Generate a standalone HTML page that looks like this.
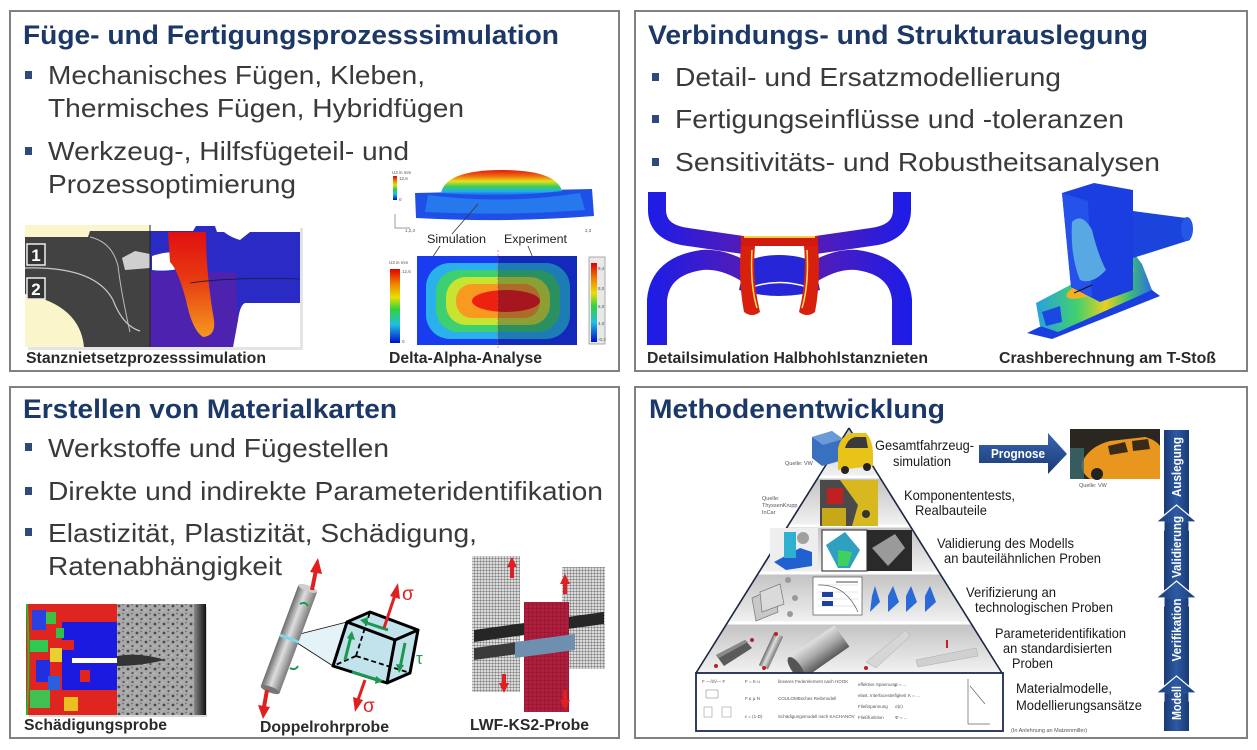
<!DOCTYPE html>
<html><head><meta charset="utf-8">
<style>
html,body{margin:0;padding:0;background:#fff;}
svg{display:block;}
text{font-family:"Liberation Sans",Arial,sans-serif;}
.t{font-weight:bold;font-size:27px;fill:#1c3867;}
.b{font-size:26px;fill:#3a3a3a;}
.c{font-weight:bold;font-size:15.5px;fill:#2a2a2a;}
.p{font-size:14px;fill:#1a1a1a;}
.q{font-size:5.5px;fill:#555;}
.m{font-size:4.5px;fill:#555;}
.bl{font-size:12.5px;font-weight:bold;fill:#fff;}
</style></head><body>
<svg width="1257" height="750" viewBox="0 0 1257 750" xmlns="http://www.w3.org/2000/svg">
<defs>
<linearGradient id="rainV" x1="0" y1="0" x2="0" y2="1">
<stop offset="0" stop-color="#e00000"/><stop offset=".2" stop-color="#f08000"/><stop offset=".38" stop-color="#e8e000"/><stop offset=".55" stop-color="#30d040"/><stop offset=".75" stop-color="#20c0e0"/><stop offset="1" stop-color="#0010d0"/></linearGradient>
<linearGradient id="dome" x1="0" y1="0" x2="0" y2="1">
<stop offset="0" stop-color="#e01808"/><stop offset=".25" stop-color="#f07010"/><stop offset=".45" stop-color="#e8e020"/><stop offset=".65" stop-color="#40d050"/><stop offset=".85" stop-color="#20b0e8"/><stop offset="1" stop-color="#2060f0"/></linearGradient>
<linearGradient id="rivG" x1="0" y1="0" x2="0" y2="1">
<stop offset="0" stop-color="#e01010"/><stop offset=".45" stop-color="#e83a10"/><stop offset="1" stop-color="#f49a20"/></linearGradient>
<linearGradient id="sheetG" gradientUnits="userSpaceOnUse" x1="648" y1="0" x2="911" y2="0">
<stop offset="0" stop-color="#1c1ce8"/><stop offset=".3" stop-color="#4a1cc0"/><stop offset=".5" stop-color="#6a18a0"/><stop offset=".7" stop-color="#4a1cc0"/><stop offset="1" stop-color="#1c1ce8"/></linearGradient>
<linearGradient id="tierG" x1="0" y1="0" x2="0" y2="1">
<stop offset="0" stop-color="#c2c2c2"/><stop offset="1" stop-color="#f2f2f2"/></linearGradient>
<linearGradient id="cylG" x1="0" y1="0" x2="1" y2="0">
<stop offset="0" stop-color="#6a6a6a"/><stop offset=".45" stop-color="#dedede"/><stop offset="1" stop-color="#7a7a7a"/></linearGradient>
<linearGradient id="cylH" x1="0" y1="0" x2="0" y2="1">
<stop offset="0" stop-color="#e0e0e0"/><stop offset=".5" stop-color="#a8a8a8"/><stop offset="1" stop-color="#5a5a5a"/></linearGradient>
<linearGradient id="barG" x1="0" y1="0" x2="1" y2="0">
<stop offset="0" stop-color="#1a3a76"/><stop offset=".5" stop-color="#2d5aa2"/><stop offset="1" stop-color="#1a3a76"/></linearGradient>
<linearGradient id="progG" x1="0" y1="0" x2="0" y2="1">
<stop offset="0" stop-color="#3866b0"/><stop offset="1" stop-color="#1a3a74"/></linearGradient>
<linearGradient id="chanG" x1="0" y1="0" x2="1" y2="0">
<stop offset="0" stop-color="#28a0e0"/><stop offset=".35" stop-color="#40d070"/><stop offset=".6" stop-color="#e8d020"/><stop offset=".8" stop-color="#40c070"/><stop offset="1" stop-color="#2a70e0"/></linearGradient>
<linearGradient id="darkR" x1="0" y1="0" x2="1" y2="0">
<stop offset="0" stop-color="#888"/><stop offset="1" stop-color="#111"/></linearGradient>
<pattern id="speck" width="9" height="9" patternUnits="userSpaceOnUse">
<rect width="9" height="9" fill="#a9a9a9"/><circle cx="2" cy="3" r="1.4" fill="#4a4a4a"/><circle cx="6.5" cy="7" r="1.1" fill="#555"/><circle cx="6" cy="1.5" r=".8" fill="#666"/><circle cx="1" cy="7.5" r=".6" fill="#d0d0d0"/></pattern>
<pattern id="grid" width="3" height="3" patternUnits="userSpaceOnUse">
<rect width="3" height="3" fill="#dcdcdc"/><path d="M0,0H3M0,0V3" stroke="#4a4a4a" stroke-width=".7"/></pattern>
<pattern id="gridR" width="4" height="4" patternUnits="userSpaceOnUse">
<rect width="4" height="4" fill="#b01e3e"/><path d="M0,0H4M0,0V4" stroke="#6a0c20" stroke-width=".6"/></pattern>
</defs>

<!-- panels -->
<rect x="10" y="11" width="609" height="360" fill="#fff" stroke="#808080" stroke-width="2"/>
<rect x="635" y="11" width="612" height="360" fill="#fff" stroke="#808080" stroke-width="2"/>
<rect x="10" y="387" width="609" height="351" fill="#fff" stroke="#808080" stroke-width="2"/>
<rect x="635" y="387" width="612" height="351" fill="#fff" stroke="#808080" stroke-width="2"/>

<!-- ===== TOP LEFT ===== -->
<text class="t" x="23" y="44" textLength="536" lengthAdjust="spacingAndGlyphs">Füge- und Fertigungsprozesssimulation</text>
<rect x="25" y="71" width="7" height="8" fill="#2d4b7a"/>
<text class="b" x="48" y="84" textLength="377" lengthAdjust="spacingAndGlyphs">Mechanisches Fügen, Kleben,</text>
<text class="b" x="48" y="117" textLength="416" lengthAdjust="spacingAndGlyphs">Thermisches Fügen, Hybridfügen</text>
<rect x="25" y="147" width="7" height="8" fill="#2d4b7a"/>
<text class="b" x="48" y="160" textLength="361" lengthAdjust="spacingAndGlyphs">Werkzeug-, Hilfsfügeteil- und</text>
<text class="b" x="48" y="193" textLength="248" lengthAdjust="spacingAndGlyphs">Prozessoptimierung</text>

<!-- Stanzniet image -->
<rect x="28" y="228" width="275" height="122" fill="#e4e4e4"/>
<rect x="25" y="225" width="125" height="122" fill="#fbf5cc"/>
<rect x="150" y="225" width="150" height="122" fill="#fff"/>
<path d="M25,237 L88,237 L90,231 L150,231 L150,347 L84,347 Q80,305 25,294 Z" fill="#424242"/>
<path d="M25,268 Q95,266 113,300 Q123,326 140,331" stroke="#c8c8c8" stroke-width="1.2" fill="none"/>
<path d="M90,237 Q112,242 118,266 Q121,292 130,332" stroke="#bdbdbd" stroke-width="1" fill="none"/>
<path d="M122,258 L135,251 L150,254 L150,268 L125,270 Z" fill="#cfcfcf"/>
<path d="M150,231 L193,231 L196,226 L215,226 L217,232 L300,232 L300,303 L245,303 Q240,305 238,320 L233,347 L150,347 Z" fill="#2a2ac4"/>
<path d="M150,272 L236,272 L238,320 L233,347 L150,347 Z" fill="#6a1c9c" opacity=".55"/>
<path d="M152,256 Q170,250 181,254 L184,268 Q165,272 152,270 Z" fill="#fff"/>
<path d="M218,226 Q226,236 240,240 L250,232 Z" fill="#fff"/>
<path d="M168,232 L206,232 Q206,275 214,320 Q216,336 203,337 Q192,330 186,300 Q178,270 170,262 Z" fill="url(#rivG)"/>
<path d="M190,283 Q230,277 300,279" stroke="#1a1a40" stroke-width=".8" fill="none"/>
<line x1="150" y1="225" x2="150" y2="347" stroke="#222" stroke-width="1"/>
<rect x="27" y="244" width="18" height="21" fill="#333" stroke="#eee" stroke-width="1.5"/>
<text x="36" y="261" text-anchor="middle" font-size="17" font-weight="bold" fill="#fff">1</text>
<rect x="27" y="278" width="18" height="21" fill="#333" stroke="#eee" stroke-width="1.5"/>
<text x="36" y="295" text-anchor="middle" font-size="17" font-weight="bold" fill="#fff">2</text>
<text class="c" x="26" y="363" textLength="240" lengthAdjust="spacingAndGlyphs">Stanznietsetzprozesssimulation</text>

<!-- Delta alpha: 3D -->
<path d="M415,193 L592,189 L594,216 Q505,223 416,218 Z" fill="#1e50e8"/>
<path d="M428,195 Q505,205 580,193 L585,210 Q505,216 425,212 Z" fill="#2a8af0" opacity=".7"/>
<path d="M441,193 Q446,170 502,170 Q556,170 562,191 Q502,198 441,193 Z" fill="url(#dome)"/>
<rect x="393" y="176" width="4" height="24" fill="url(#rainV)"/>
<text class="m" x="392" y="174">U3 in mm</text>
<text class="m" x="399" y="180">12,6</text>
<text class="m" x="399" y="201">0</text>
<path d="M395,214 V228 H410" stroke="#777" stroke-width=".7" fill="none"/>
<text class="m" x="405" y="232">1,2,3</text>
<text class="m" x="585" y="232">2,3</text>
<line x1="452" y1="234" x2="478" y2="204" stroke="#333" stroke-width=".8"/>
<text x="427" y="243" font-size="11.5" fill="#222" textLength="59" lengthAdjust="spacingAndGlyphs">Simulation</text>
<text x="504" y="243" font-size="11.5" fill="#222" textLength="63" lengthAdjust="spacingAndGlyphs">Experiment</text>
<line x1="440" y1="246" x2="432" y2="258" stroke="#333" stroke-width=".8"/>
<line x1="528" y1="246" x2="533" y2="258" stroke="#333" stroke-width=".8"/>
<!-- heatmap -->
<rect x="417" y="256" width="160" height="89" fill="#1a3cf0"/>
<rect x="426" y="263" width="144" height="76" rx="24" fill="#2ab0ea"/>
<rect x="436" y="270" width="124" height="62" rx="22" fill="#3cd070"/>
<rect x="446" y="277" width="104" height="48" rx="20" fill="#c8e430"/>
<rect x="456" y="284" width="84" height="34" rx="16" fill="#f89a20"/>
<ellipse cx="506" cy="301" rx="34" ry="11" fill="#ee2010"/>
<rect x="498" y="256" width="79" height="89" fill="#000040" opacity=".3"/>
<line x1="498" y1="250" x2="498" y2="348" stroke="#c44" stroke-width=".6" stroke-dasharray="2,2"/>
<text class="m" x="389" y="264">U3 in mm</text>
<rect x="390" y="269" width="10" height="74" fill="url(#rainV)"/>
<text class="m" x="402" y="273">12,6</text>
<text class="m" x="402" y="343">0</text>
<rect x="589" y="257" width="16" height="87" fill="#e8e8e8" stroke="#999" stroke-width=".8"/>
<rect x="591" y="263" width="6" height="79" fill="url(#rainV)"/>
<text class="m" x="598" y="270">9,4</text><text class="m" x="598" y="290">8,0</text><text class="m" x="598" y="308">6,0</text><text class="m" x="598" y="325">4,0</text><text class="m" x="598" y="341">-0,3</text>
<text class="c" x="389" y="363" textLength="153" lengthAdjust="spacingAndGlyphs">Delta-Alpha-Analyse</text>

<!-- ===== TOP RIGHT ===== -->
<text class="t" x="648" y="44" textLength="500" lengthAdjust="spacingAndGlyphs">Verbindungs- und Strukturauslegung</text>
<rect x="652" y="73" width="7" height="8" fill="#2d4b7a"/>
<text class="b" x="675" y="86" textLength="386" lengthAdjust="spacingAndGlyphs">Detail- und Ersatzmodellierung</text>
<rect x="652" y="115" width="7" height="8" fill="#2d4b7a"/>
<text class="b" x="675" y="128" textLength="449" lengthAdjust="spacingAndGlyphs">Fertigungseinflüsse und -toleranzen</text>
<rect x="652" y="158" width="7" height="8" fill="#2d4b7a"/>
<text class="b" x="675" y="171" textLength="485" lengthAdjust="spacingAndGlyphs">Sensitivitäts- und Robustheitsanalysen</text>

<!-- rivet cross-section -->
<g fill="none" stroke="url(#sheetG)">
<path d="M657,192 L657,210 Q657,233 688,237 L750,246" stroke-width="18"/>
<path d="M902,192 L902,210 Q902,233 871,237 L809,246" stroke-width="18"/>
<path d="M752,276 Q725,258 702,260 Q660,266 657,300 L657,345" stroke-width="20"/>
<path d="M807,276 Q834,258 857,260 Q899,266 902,300 L902,345" stroke-width="20"/>
</g>
<path d="M745,262 Q760,255 779,255 Q799,255 814,262 L820,290 Q800,296 779,296 Q759,296 739,290 Z" fill="#2626d8"/>
<path d="M752,287 Q779,278 807,287" stroke="#fff" stroke-width="1.5" fill="none"/>
<rect x="741" y="236" width="77" height="10" fill="#d01a10"/>
<rect x="744" y="236" width="71" height="2" fill="#f4d040"/>
<path d="M741,246 L755,246 Q752,280 760,312 Q752,318 744,312 Q738,280 741,246 Z" fill="#d8200e"/>
<path d="M818,246 L804,246 Q807,280 799,312 Q807,318 815,312 Q821,280 818,246 Z" fill="#d8200e"/>
<path d="M752,250 Q750,285 757,308" stroke="#f8e060" stroke-width="1.5" fill="none"/>
<path d="M807,250 Q809,285 802,308" stroke="#f8e060" stroke-width="1.5" fill="none"/>

<!-- crash T-joint -->
<polygon points="1027,333 1052,339 1160,296 1152,290 1120,288" fill="#1a3ee0"/>
<polygon points="1036,303 1133,252 1142,264 1152,290 1058,332 1040,326" fill="url(#chanG)"/>
<polygon points="1042,312 1060,306 1062,322 1046,326" fill="#1a48e0"/>
<ellipse cx="1100" cy="283" rx="36" ry="9" transform="rotate(-22 1100 283)" fill="#f0b020"/>
<ellipse cx="1102" cy="282" rx="22" ry="5" transform="rotate(-22 1102 282)" fill="#e03010"/>
<polygon points="1062,193 1094,183 1133,190 1133,290 1100,302 1071,287" fill="#1a3ee0"/>
<polygon points="1062,193 1088,201 1092,297 1071,287" fill="#2452ea"/>
<path d="M1072,222 Q1082,212 1092,230 Q1098,255 1106,270 Q1092,285 1080,280 Q1070,255 1072,222 Z" fill="#58a8e4"/>
<polygon points="1133,211 1186,218 1190,240 1133,258" fill="#1a44dc"/>
<ellipse cx="1187" cy="229" rx="6" ry="12" fill="#2656e8"/>
<line x1="1074" y1="293" x2="1092" y2="285" stroke="#111" stroke-width="1"/>
<text class="c" x="647" y="363" textLength="281" lengthAdjust="spacingAndGlyphs">Detailsimulation Halbhohlstanznieten</text>
<text class="c" x="999" y="363" textLength="217" lengthAdjust="spacingAndGlyphs">Crashberechnung am T-Stoß</text>

<!-- ===== BOTTOM LEFT ===== -->
<text class="t" x="23" y="418" textLength="374" lengthAdjust="spacingAndGlyphs">Erstellen von Materialkarten</text>
<rect x="25" y="443" width="7" height="8" fill="#2d4b7a"/>
<text class="b" x="48" y="457" textLength="341" lengthAdjust="spacingAndGlyphs">Werkstoffe und Fügestellen</text>
<rect x="25" y="487" width="7" height="8" fill="#2d4b7a"/>
<text class="b" x="48" y="500" textLength="555" lengthAdjust="spacingAndGlyphs">Direkte und indirekte Parameteridentifikation</text>
<rect x="25" y="528" width="7" height="8" fill="#2d4b7a"/>
<text class="b" x="48" y="542" textLength="429" lengthAdjust="spacingAndGlyphs">Elastizität, Plastizität, Schädigung,</text>
<text class="b" x="48" y="575" textLength="234" lengthAdjust="spacingAndGlyphs">Ratenabhängigkeit</text>

<!-- Schädigungsprobe -->
<rect x="29" y="607" width="178" height="110" fill="#d8d8d8"/>
<rect x="26" y="604" width="91" height="111" fill="#e02420"/>
<rect x="117" y="604" width="89" height="111" fill="url(#speck)"/>
<rect x="194" y="604" width="12" height="111" fill="url(#darkR)"/>
<path d="M117,656 Q140,652 165,660 Q140,666 117,666 Z" fill="#333"/>
<rect x="62" y="622" width="55" height="68" fill="#1a1ae0"/>
<rect x="32" y="610" width="14" height="20" fill="#2a40e0"/>
<rect x="46" y="612" width="10" height="12" fill="#40c040"/>
<rect x="30" y="640" width="18" height="12" fill="#30c850"/>
<rect x="36" y="660" width="14" height="22" fill="#2030e0"/>
<rect x="50" y="648" width="12" height="14" fill="#e8d030"/>
<rect x="30" y="690" width="20" height="18" fill="#40c050"/>
<rect x="48" y="676" width="12" height="14" fill="#2a60e0"/>
<rect x="62" y="640" width="12" height="10" fill="#e02420"/>
<rect x="80" y="670" width="10" height="12" fill="#e02420"/>
<rect x="64" y="697" width="14" height="14" fill="#e8c020"/>
<rect x="56" y="628" width="8" height="10" fill="#30c050"/>
<rect x="90" y="612" width="27" height="10" fill="#e02420"/>
<rect x="72" y="658" width="45" height="5" fill="#fff"/>
<path d="M27,604 Q30,660 27,715" stroke="#20c020" stroke-width="2" fill="none"/>
<text class="c" x="24" y="730" textLength="143" lengthAdjust="spacingAndGlyphs">Schädigungsprobe</text>

<!-- Doppelrohrprobe -->
<path d="M288,637 L347,622 L333,666 Z" fill="#d8eef4" opacity=".7"/>
<line x1="288" y1="637" x2="347" y2="622" stroke="#111" stroke-width=".8"/>
<line x1="288" y1="637" x2="333" y2="666" stroke="#111" stroke-width=".8"/>
<g transform="translate(289,639) rotate(20.4)">
<rect x="-10" y="-54" width="20" height="108" fill="url(#cylG)"/>
<ellipse cx="0" cy="-54" rx="10" ry="3" fill="#cfcfcf"/>
<ellipse cx="0" cy="54" rx="10" ry="3" fill="#777"/>
<rect x="-10" y="-2" width="20" height="3" fill="#7ad8ea"/>
</g>
<path d="M312,590 L316,570" stroke="#e02020" stroke-width="4"/>
<polygon points="310,572 318,558 322,574" fill="#e02020"/>
<path d="M267,690 L264,707" stroke="#e02020" stroke-width="4"/>
<polygon points="258,705 263,719 270,707" fill="#e02020"/>
<path d="M300,604 q5,-3 8,2" stroke="#1a9a50" stroke-width="2" fill="none"/>
<path d="M290,668 q5,3 8,-2" stroke="#1a9a50" stroke-width="2" fill="none"/>
<!-- cube -->
<polygon points="347,622 370,612 418,630 410,673 387,683 333,666" fill="#c2e2ec"/>
<g stroke="#000" stroke-width="1.8" stroke-dasharray="5,3" fill="none">
<path d="M356,656 L370,612 M356,656 L410,673 M356,656 L333,666"/>
</g>
<g stroke="#000" stroke-width="3" fill="none" stroke-linejoin="round">
<polygon points="347,622 395,640 387,683 333,666"/>
<path d="M347,622 L370,612 L418,630 L395,640 M418,630 L410,673 L387,683"/>
</g>
<g stroke="#1a9a50" stroke-width="3" fill="#1a9a50">
<line x1="388" y1="630" x2="364" y2="622"/><polygon points="360,620 368,617 367,626" stroke="none"/>
<line x1="405" y1="643" x2="400" y2="668"/><polygon points="399,673 396,664 404,665" stroke="none"/>
<line x1="345" y1="660" x2="351" y2="636"/><polygon points="352,631 355,640 347,638" stroke="none"/>
<line x1="352" y1="672" x2="378" y2="680"/><polygon points="383,681 375,684 376,676" stroke="none"/>
</g>
<path d="M384,628 L395,595" stroke="#e02020" stroke-width="3"/>
<polygon points="390,596 398,583 400,599" fill="#e02020"/>
<path d="M365,680 L358,700" stroke="#e02020" stroke-width="3"/>
<polygon points="353,697 355,712 363,700" fill="#e02020"/>
<text x="402" y="600" font-size="19" fill="#e02020">σ</text>
<text x="363" y="712" font-size="19" fill="#e02020">σ</text>
<text x="416" y="664" font-size="17" fill="#1a9a50">τ</text>
<text class="c" x="260" y="732" textLength="129" lengthAdjust="spacingAndGlyphs">Doppelrohrprobe</text>

<!-- LWF-KS2 -->
<rect x="472" y="556" width="48" height="136" fill="url(#grid)"/>
<rect x="562" y="567" width="43" height="102" fill="url(#grid)"/>
<polygon points="474,630 604,612 604,624 474,642" fill="#262626"/>
<polygon points="474,648 562,636 562,648 474,660" fill="#3a3a3a"/>
<rect x="524" y="602" width="45" height="110" fill="url(#gridR)"/>
<polygon points="515,642 575,634 575,650 515,658" fill="#6f8fb0"/>
<g fill="#e02020" stroke="#e02020">
<line x1="512" y1="578" x2="512" y2="565" stroke-width="4"/><polygon points="507,567 512,557 517,567" stroke="none"/>
<line x1="565" y1="594" x2="565" y2="582" stroke-width="4"/><polygon points="560,584 565,574 570,584" stroke="none"/>
<line x1="504" y1="674" x2="504" y2="685" stroke-width="4"/><polygon points="499,683 504,693 509,683" stroke="none"/>
<line x1="565" y1="690" x2="565" y2="702" stroke-width="4"/><polygon points="560,700 565,710 570,700" stroke="none"/>
</g>
<text class="c" x="470" y="730" textLength="119" lengthAdjust="spacingAndGlyphs">LWF-KS2-Probe</text>

<!-- ===== BOTTOM RIGHT ===== -->
<text class="t" x="649" y="418" textLength="296" lengthAdjust="spacingAndGlyphs">Methodenentwicklung</text>

<!-- pyramid tiers -->
<polygon points="849,428 879.6,477 818.4,477" fill="url(#tierG)"/>
<polygon points="818.4,477 879.6,477 910.2,526 787.8,526" fill="url(#tierG)"/>
<polygon points="787.8,526 910.2,526 939.6,573 758.4,573" fill="url(#tierG)"/>
<polygon points="758.4,573 939.6,573 970.8,623 727.2,623" fill="url(#tierG)"/>
<polygon points="727.2,623 970.8,623 1002,673 696,673" fill="url(#tierG)"/>
<g stroke="#fff" stroke-width="3">
<line x1="815" y1="477" x2="883" y2="477"/><line x1="785" y1="526" x2="913" y2="526"/><line x1="755" y1="573" x2="943" y2="573"/><line x1="724" y1="623" x2="974" y2="623"/>
</g>
<line x1="849" y1="428" x2="696" y2="673" stroke="#1a2540" stroke-width="1.6"/>
<line x1="849" y1="428" x2="1002" y2="673" stroke="#1a2540" stroke-width="1.6"/>

<!-- car tier -->
<polygon points="812,437 832,431 843,439 843,460 822,466 812,458" fill="#3a70c0"/>
<polygon points="812,437 832,431 843,439 823,445" fill="#6a9ad8"/>
<path d="M838,449 Q840,436 852,433 L866,433 Q873,440 873,455 L873,466 L838,470 Z" fill="#e8c418"/>
<path d="M845,448 Q848,438 856,437 L866,437 L868,448 Z" fill="#3a3a3a"/>
<circle cx="845" cy="470" r="4" fill="#222"/><circle cx="867" cy="467" r="4" fill="#222"/>
<!-- component tier -->
<rect x="820" y="480" width="58" height="46" fill="#4a4a4a"/>
<polygon points="840,480 878,480 878,526 852,526 858,505" fill="#d8b820"/>
<rect x="822" y="508" width="24" height="18" fill="#c8a818"/>
<rect x="827" y="488" width="16" height="16" fill="#c02020"/>
<circle cx="866" cy="514" r="4" fill="#333"/>
<!-- validation tier -->
<rect x="770" y="528" width="48" height="43" fill="#eeeeee"/>
<path d="M774,562 L800,548 L812,552 L812,566 L786,570 Z" fill="#2060d0"/>
<rect x="784" y="532" width="12" height="26" fill="#30b0d0"/>
<circle cx="803" cy="538" r="6" fill="#a0a0a0"/>
<rect x="822" y="530" width="45" height="41" fill="#fff" stroke="#222" stroke-width="1"/>
<polygon points="826,545 845,532 860,550 850,568 838,568" fill="#30a0c0"/>
<polygon points="838,550 852,552 848,566 838,566" fill="#40d060"/>
<rect x="867" y="530" width="45" height="41" fill="#2a2a2a"/>
<polygon points="872,548 895,534 905,548 888,566" fill="#9a9a9a"/>
<!-- verification tier -->
<polygon points="752,598 775,588 778,612 756,621" fill="#c8c8c8" stroke="#777" stroke-width=".7"/>
<polygon points="760,592 780,584 784,604 762,612" fill="#dadada" stroke="#777" stroke-width=".7"/>
<circle cx="788" cy="580" r="3" fill="#999"/><circle cx="795" cy="598" r="3" fill="#999"/><circle cx="790" cy="614" r="3" fill="#999"/>
<rect x="813" y="577" width="49" height="38" fill="#fff" stroke="#555" stroke-width=".7"/>
<path d="M818,585 H858 M818,592 H858 M818,599 H858 M818,606 H858" stroke="#ccc" stroke-width=".5"/>
<path d="M818,585 Q845,584 858,612" stroke="#444" stroke-width=".6" fill="none"/>
<line x1="836" y1="582" x2="858" y2="582" stroke="#111" stroke-width=".8"/>
<rect x="822" y="592" width="11" height="5" fill="#2040a0"/><rect x="822" y="601" width="11" height="5" fill="#2040a0"/>
<g fill="#2a6ad8">
<polygon points="875,586 880,602 870,612 872,596"/><polygon points="893,586 899,602 888,612 888,596"/><polygon points="911,586 917,602 906,612 906,596"/><polygon points="930,586 936,602 925,612 925,596"/>
</g>
<!-- parameter tier -->
<polygon points="716,655 745,640 752,648 724,666" fill="#5a5a5a"/>
<polygon points="716,655 745,640 748,642 719,658" fill="#8a8a8a"/>
<g transform="translate(771,651) rotate(25)"><rect x="-5" y="-18" width="10" height="36" fill="url(#cylG)"/></g>
<g transform="translate(819,652) rotate(-35)"><rect x="-28" y="-13" width="56" height="26" fill="url(#cylH)"/><ellipse cx="-28" cy="0" rx="5" ry="13" fill="#555"/></g>
<polygon points="866,662 906,630 910,636 876,668" fill="#d6d6d6" stroke="#aaa" stroke-width=".5"/>
<polygon points="916,660 976,648 978,656 918,667" fill="#d0d0d0" stroke="#aaa" stroke-width=".5"/>
<g fill="#c02020"><circle cx="716" cy="666" r="2"/><circle cx="752" cy="640" r="2"/><circle cx="764" cy="668" r="2"/><circle cx="776" cy="634" r="2"/><circle cx="866" cy="668" r="2"/><rect x="946" y="640" width="2" height="8"/></g>
<!-- bottom box -->
<rect x="696" y="673" width="307" height="58" fill="#fff" stroke="#1a2a50" stroke-width="1.8"/>
<g class="m">
<text x="702" y="683">F —/\/\/— F</text><text x="745" y="683">F = K·u</text><text x="778" y="683">lineares Federelement nach HOOK</text>
<text x="745" y="700">F ≤ μ·N</text><text x="778" y="700">COULOMBsches Reibmodell</text>
<text x="745" y="718">ε = (1-D)</text><text x="778" y="718">Schädigungsmodell nach KACHANOV</text>
<text x="858" y="686">effektive Spannung</text><text x="895" y="686">σ = ...</text>
<text x="858" y="697">elast. Interfacesteifigkeit</text><text x="908" y="697">K = ...</text>
<text x="858" y="708">Fließspannung</text><text x="895" y="708">σ(ε)</text>
<text x="858" y="719">Fließfunktion</text><text x="895" y="719">Φ = ...</text>
</g>
<path d="M706,690 h12 v8 h-12 z M740,694 m0,0" stroke="#777" stroke-width=".5" fill="none"/>
<rect x="704" y="707" width="8" height="10" fill="none" stroke="#888" stroke-width=".5"/>
<rect x="722" y="707" width="9" height="10" fill="none" stroke="#888" stroke-width=".5"/>
<path d="M968,679 V724 H990 M970,686 L985,704" stroke="#666" stroke-width=".7" fill="none"/>
<text class="q" x="1011" y="732" font-size="5">(In Anlehnung an Matzenmiller)</text>

<!-- pyramid labels -->
<text class="p" x="875" y="450" textLength="99" lengthAdjust="spacingAndGlyphs">Gesamtfahrzeug-</text>
<text class="p" x="893" y="466" textLength="58" lengthAdjust="spacingAndGlyphs">simulation</text>
<text class="p" x="904" y="500" textLength="111" lengthAdjust="spacingAndGlyphs">Komponententests,</text>
<text class="p" x="915" y="515" textLength="72" lengthAdjust="spacingAndGlyphs">Realbauteile</text>
<text class="p" x="937" y="548" textLength="137" lengthAdjust="spacingAndGlyphs">Validierung des Modells</text>
<text class="p" x="944" y="563" textLength="157" lengthAdjust="spacingAndGlyphs">an bauteilähnlichen Proben</text>
<text class="p" x="966" y="597" textLength="90" lengthAdjust="spacingAndGlyphs">Verifizierung an</text>
<text class="p" x="975" y="612" textLength="138" lengthAdjust="spacingAndGlyphs">technologischen Proben</text>
<text class="p" x="995" y="638" textLength="131" lengthAdjust="spacingAndGlyphs">Parameteridentifikation</text>
<text class="p" x="1003" y="653" textLength="109" lengthAdjust="spacingAndGlyphs">an standardisierten</text>
<text class="p" x="1012" y="668" textLength="41" lengthAdjust="spacingAndGlyphs">Proben</text>
<text class="p" x="1016" y="693" textLength="96" lengthAdjust="spacingAndGlyphs">Materialmodelle,</text>
<text class="p" x="1016" y="710" textLength="126" lengthAdjust="spacingAndGlyphs">Modellierungsansätze</text>
<text class="q" x="785" y="465">Quelle: VW</text>
<text class="q" x="762" y="500">Quelle:</text>
<text class="q" x="762" y="507">ThyssenKrupp</text>
<text class="q" x="762" y="514">InCar</text>

<!-- Prognose arrow -->
<path d="M979,445 H1048 V433 L1067,454 L1048,474 V463 H979 Z" fill="url(#progG)"/>
<text class="bl" x="1018" y="458" text-anchor="middle" textLength="54" lengthAdjust="spacingAndGlyphs">Prognose</text>
<!-- taxi -->
<rect x="1070" y="429" width="90" height="50" fill="#2a2620"/>
<path d="M1082,462 Q1090,446 1110,441 L1145,437 Q1156,440 1160,446 L1160,479 L1090,479 Q1080,472 1082,462 Z" fill="#e8961e"/>
<path d="M1108,446 L1125,442 L1128,452 L1110,455 Z M1132,441 L1148,439 L1150,449 L1133,451 Z" fill="#3a2a18"/>
<rect x="1070" y="448" width="14" height="31" fill="#3a6a70" opacity=".8"/>
<circle cx="1097" cy="474" r="6" fill="#222"/>
<text class="q" x="1079" y="487">Quelle: VW</text>

<!-- right bar -->
<rect x="1164" y="430" width="25" height="301" fill="url(#barG)"/>
<g fill="url(#barG)" stroke="#fff" stroke-width="1.2">
<polygon points="1156,522 1176.5,505 1197,522 1189,522 1189,530 1164,530 1164,522"/>
<polygon points="1156,598 1176.5,581 1197,598 1189,598 1189,606 1164,606 1164,598"/>
<polygon points="1156,693 1176.5,676 1197,693 1189,693 1189,701 1164,701 1164,693"/>
</g>
<rect x="1164.6" y="523" width="23.8" height="8" fill="url(#barG)"/>
<rect x="1164.6" y="599" width="23.8" height="8" fill="url(#barG)"/>
<rect x="1164.6" y="694" width="23.8" height="8" fill="url(#barG)"/>
<text class="bl" transform="translate(1181,467) rotate(-90)" text-anchor="middle" textLength="60" lengthAdjust="spacingAndGlyphs">Auslegung</text>
<text class="bl" transform="translate(1181,547) rotate(-90)" text-anchor="middle" textLength="62" lengthAdjust="spacingAndGlyphs">Validierung</text>
<text class="bl" transform="translate(1181,630) rotate(-90)" text-anchor="middle" textLength="63" lengthAdjust="spacingAndGlyphs">Verifikation</text>
<text class="bl" transform="translate(1181,703) rotate(-90)" text-anchor="middle" textLength="34" lengthAdjust="spacingAndGlyphs">Modell</text>
</svg>
</body></html>
